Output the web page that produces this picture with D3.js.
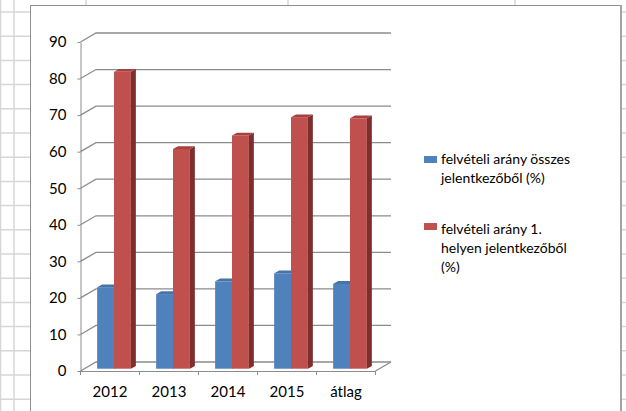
<!DOCTYPE html>
<html lang="hu">
<head>
    <meta charset="UTF-8">
    <style>
        body { margin: 0; background: #fff; }
        svg { display: block; }
        .axis text { font-family: Lato, "Open Sans", sans-serif; fill: #000; }
        .axis path, .axis line { stroke: #8c8c8c; }
        .grid { fill: none; stroke: #8c8c8c; stroke-width: 1.3px; }
        .sheet line { stroke: #d6d6d6; stroke-width: 1.5px; }
        .legend text { font-family: Lato, "Open Sans", sans-serif; font-size: 14px; fill: #000; }
    </style>
</head>
<body>
    <script src="https://cdn.jsdelivr.net/npm/d3@7"></script>
    <script>

        // data
        var categories = ["2012", "2013", "2014", "2015", "átlag"];
        var seriesKeys = ["osszes", "elso"];
        var seriesNames = [
            ["felvételi arány összes", "jelentkezőből (%)"],
            ["felvételi arány 1.", "helyen jelentkezőből", "(%)"]
        ];
        var osszes = [22.3, 20.4, 23.9, 26.1, 23.2];
        var elso = [81.2, 60.1, 63.8, 68.8, 68.5];
        var yTicks = [0, 10, 20, 30, 40, 50, 60, 70, 80, 90];

        var colors = {
            osszes: {front: "#4f81bd", side: "#345d8f", top: "#4674aa"},
            elso: {front: "#c0504d", side: "#7e2f2d", top: "#a8413e"}
        };

        var W = 626, H = 411;
        var svg = d3.select("body").append("svg").attr("width", W).attr("height", H);

        // spreadsheet grid behind the chart object
        var sheetCols = [0.5, 14, 86, 288, 515];
        var sheetRows = d3.range(0, 17).map(function(k) { return 12 + k * 24.2; });
        var sheet = svg.append("g").attr("class", "sheet");
        sheet.selectAll(".c").data(sheetCols).enter().append("line")
            .attr("x1", function(d) { return d; }).attr("x2", function(d) { return d; })
            .attr("y1", 0).attr("y2", H);
        sheet.selectAll(".r").data(sheetRows).enter().append("line")
            .attr("x1", 0).attr("x2", W)
            .attr("y1", function(d) { return d; }).attr("y2", function(d) { return d; });

        // chart object box
        svg.append("rect")
            .attr("x", 30.5).attr("y", 5.5).attr("width", 591).attr("height", 430)
            .attr("fill", "#fff").attr("stroke", "#8e8e8e").attr("stroke-width", 1);
        svg.append("line")
            .attr("x1", 621).attr("x2", 621).attr("y1", 5).attr("y2", H)
            .attr("stroke", "#a3a3a3").attr("stroke-width", 2);

        var x = d3.scaleBand().domain(categories).range([80.5, 375.5]).paddingInner(0).paddingOuter(0),
            x1 = d3.scaleBand().domain(seriesKeys).range([0, x.bandwidth()]).paddingInner(0).paddingOuter(0.75),
            y = d3.scaleLinear().domain([0, 90]).range([371, 42]);

        var wall = {dx: 15.5, dy: -9};      // depth of the 3d walls
        var place = {dx: 4, dy: -2.3};      // where the bars stand in depth
        var bar = {dx: 5, dy: -2.8};        // bar thickness

        var g = svg.append("g");

        // gridlines on side and back wall
        g.selectAll(".grid").data(yTicks).enter().append("path")
            .attr("class", "grid")
            .attr("d", function(t) {
                var yy = y(t);
                return "M" + x.range()[0] + "," + yy +
                    "L" + (x.range()[0] + wall.dx) + "," + (yy + wall.dy) +
                    "L" + (x.range()[1] + wall.dx) + "," + (yy + wall.dy);
            });

        // floor right edge
        g.append("path").attr("class", "grid")
            .attr("d", "M" + x.range()[1] + "," + y(0) + "L" + (x.range()[1] + wall.dx) + "," + (y(0) + wall.dy));

        // bars
        var data = categories.map(function(c, i) {
            return {cat: c, values: [{key: "osszes", v: osszes[i]}, {key: "elso", v: elso[i]}]};
        });

        var groups = g.selectAll(".cat").data(data).enter().append("g").attr("class", "cat");

        var bars = groups.selectAll(".bar").data(function(d) {
            return d.values.map(function(v) { return {cat: d.cat, key: v.key, v: v.v}; });
        }).enter().append("g").attr("class", "bar");

        function x0(d) { return x(d.cat) + x1(d.key) + place.dx; }
        function yTop(d) { return y(d.v) + place.dy; }
        function yBase() { return y(0) + place.dy; }

        bars.append("rect")
            .attr("x", x0)
            .attr("y", yTop)
            .attr("width", x1.bandwidth())
            .attr("height", function(d) { return yBase() - yTop(d); })
            .attr("fill", function(d) { return colors[d.key].front; });

        bars.append("path")
            .attr("fill", function(d) { return colors[d.key].side; })
            .attr("d", function(d) {
                var xr = x0(d) + x1.bandwidth();
                return "M" + xr + "," + yTop(d) +
                    "L" + (xr + bar.dx) + "," + (yTop(d) + bar.dy) +
                    "L" + (xr + bar.dx) + "," + (yBase() + bar.dy) +
                    "L" + xr + "," + yBase() + "Z";
            });

        bars.append("path")
            .attr("fill", function(d) { return colors[d.key].top; })
            .attr("d", function(d) {
                var xl = x0(d), xr = xl + x1.bandwidth(), yt = yTop(d);
                return "M" + xl + "," + yt +
                    "L" + (xl + bar.dx) + "," + (yt + bar.dy) +
                    "L" + (xr + bar.dx) + "," + (yt + bar.dy) +
                    "L" + xr + "," + yt + "Z";
            });

        // y axis
        g.append("g")
            .attr("class", "axis axis--y")
            .attr("transform", "translate(" + x.range()[0] + ",0)")
            .call(d3.axisLeft(y).tickValues(yTicks).tickSize(3).tickSizeOuter(0).tickPadding(11))
            .call(function(a) { a.selectAll("text").style("font-size", "15px"); });

        // x axis
        var xAxis = g.append("g")
            .attr("class", "axis axis--x")
            .attr("transform", "translate(0," + y(0) + ")")
            .call(d3.axisBottom(x).tickSize(0).tickPadding(15));
        xAxis.selectAll("text").style("font-size", "15px");
        xAxis.selectAll(".cattick")
            .data(categories.map(function(c) { return x(c); }).concat([x.range()[1]]))
            .enter().append("line")
            .attr("class", "cattick")
            .attr("x1", function(d) { return d; }).attr("x2", function(d) { return d; })
            .attr("y1", 0).attr("y2", 4);

        // legend
        var legendY = [{mark: 156, lines: [164.3, 183.3]}, {mark: 223, lines: [234.3, 253, 271.7]}];
        var legend = svg.append("g").attr("class", "legend");
        seriesKeys.forEach(function(k, i) {
            legend.append("rect")
                .attr("x", 424).attr("y", legendY[i].mark)
                .attr("width", 13).attr("height", 7)
                .attr("fill", colors[k].front);
            var t = legend.append("text").attr("x", 441);
            seriesNames[i].forEach(function(line, j) {
                t.append("tspan").attr("x", 441).attr("y", legendY[i].lines[j]).text(line);
            });
        });

    </script>
</body>
</html>
